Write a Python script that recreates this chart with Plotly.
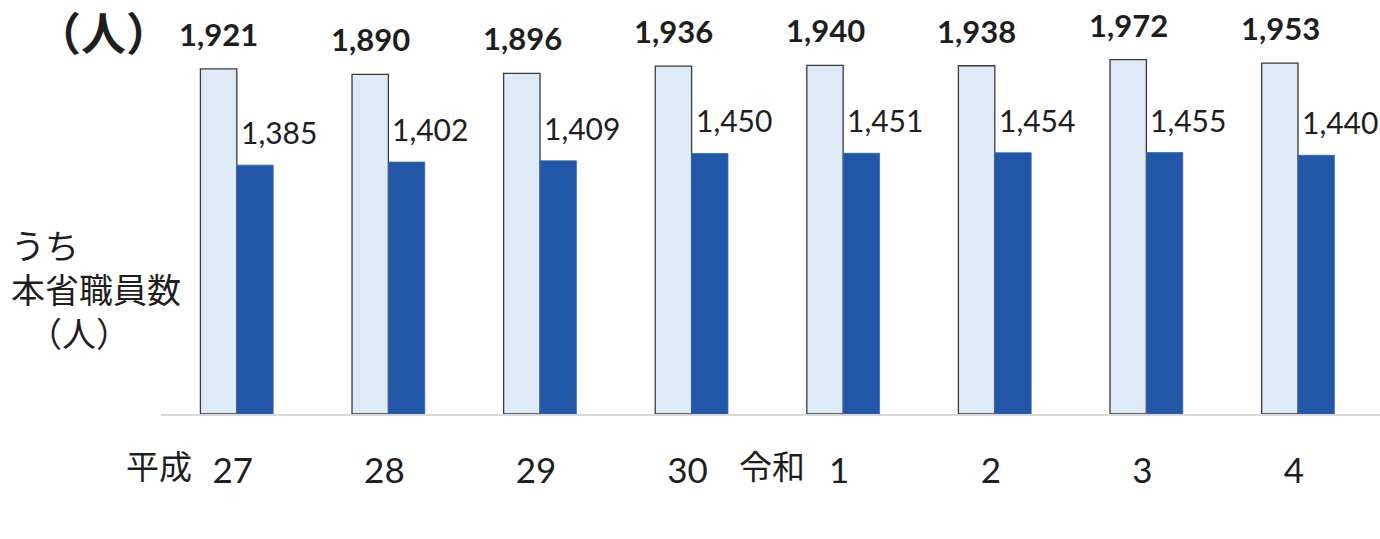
import plotly.graph_objects as go

categories = ["27", "28", "29", "30", "1", "2", "3", "4"]
eras = ["平成", "", "", "", "令和", "", "", ""]
total_staff = [1921, 1890, 1896, 1936, 1940, 1938, 1972, 1953]
ministry_staff = [1385, 1402, 1409, 1450, 1451, 1454, 1455, 1440]

LIGHT = "#DEEBF7"
DARK = "#2256A6"
TXT = "#1e1e1e"
NUM_FONT = "Lato, 'Noto Sans', sans-serif"
CJK_FONT = "'Noto Sans CJK JP', sans-serif"

pos = list(range(len(categories)))

fig = go.Figure()
fig.add_trace(go.Bar(
    x=pos, y=total_staff, name="職員数",
    marker=dict(color=LIGHT, line=dict(color="#3a3a3a", width=1.3)),
    hoverinfo="skip",
))
fig.add_trace(go.Bar(
    x=pos, y=ministry_staff, name="うち本省職員数",
    marker=dict(color=DARK, line=dict(color="#3a66b0", width=0.8)),
    hoverinfo="skip",
))

W, H = 1380, 539
ml, mr, mt, mb = 161, 0, 0, 125
pw, ph = W - ml - mr, H - mt - mb

def px(x):
    return (x - ml) / pw

def py(y):
    return (H - mb - y) / ph

for i, v in zip(pos, total_staff):
    fig.add_annotation(
        x=i, y=v, xref="x", yref="y", text=f"{v:,}", showarrow=False,
        xanchor="center", yanchor="middle", xshift=-18, yshift=35,
        font=dict(family=NUM_FONT, size=31, color=TXT, weight="bold"),
    )
for i, v in zip(pos, ministry_staff):
    fig.add_annotation(
        x=i, y=v, xref="x", yref="y", text=f"{v:,}", showarrow=False,
        xanchor="left", yanchor="middle", xshift=2, yshift=33,
        font=dict(family=NUM_FONT, size=30, color=TXT),
    )

# era labels beside the first year of each era
era_shift = {"平成": -43, "令和": -36}
for i, e in zip(pos, eras):
    if e:
        fig.add_annotation(
            x=i, y=0, xref="x", yref="y", text=e, showarrow=False,
            xanchor="right", yanchor="middle", xshift=era_shift[e], yshift=-51,
            font=dict(family=CJK_FONT, size=33, color=TXT),
        )

# unit label at top-left
fig.add_annotation(
    x=px(103), y=py(31), xref="paper", yref="paper", text="<b>（人）</b>",
    showarrow=False, xanchor="center", yanchor="middle",
    font=dict(family=CJK_FONT, size=45, color=TXT),
)

# side label for the dark series
fig.add_annotation(
    x=px(9), y=py(288), xref="paper", yref="paper",
    text="うち<br>本省職員数<br>　（人）", showarrow=False,
    xanchor="left", yanchor="middle", align="left",
    font=dict(family=CJK_FONT, size=34, color=TXT),
)

span = 8 * 151.6
fig.update_layout(
    width=W, height=H,
    margin=dict(l=ml, r=mr, t=mt, b=mb),
    paper_bgcolor="white", plot_bgcolor="white",
    barmode="group", bargap=0.52, bargroupgap=0,
    showlegend=False,
    xaxis=dict(
        range=[-0.5, -0.5 + 8 * pw / span],
        tickmode="array", tickvals=pos, ticktext=categories,
        showgrid=False, zeroline=False,
        showline=True, linecolor="#d9d9d9", linewidth=2,
        ticks="", ticklabelstandoff=25, ticklabelshift=-4,
        tickfont=dict(family=NUM_FONT, size=35, color=TXT),
    ),
    yaxis=dict(
        range=[0, 2304], visible=False, showgrid=False, zeroline=False,
    ),
)

fig.write_html("out.html")
